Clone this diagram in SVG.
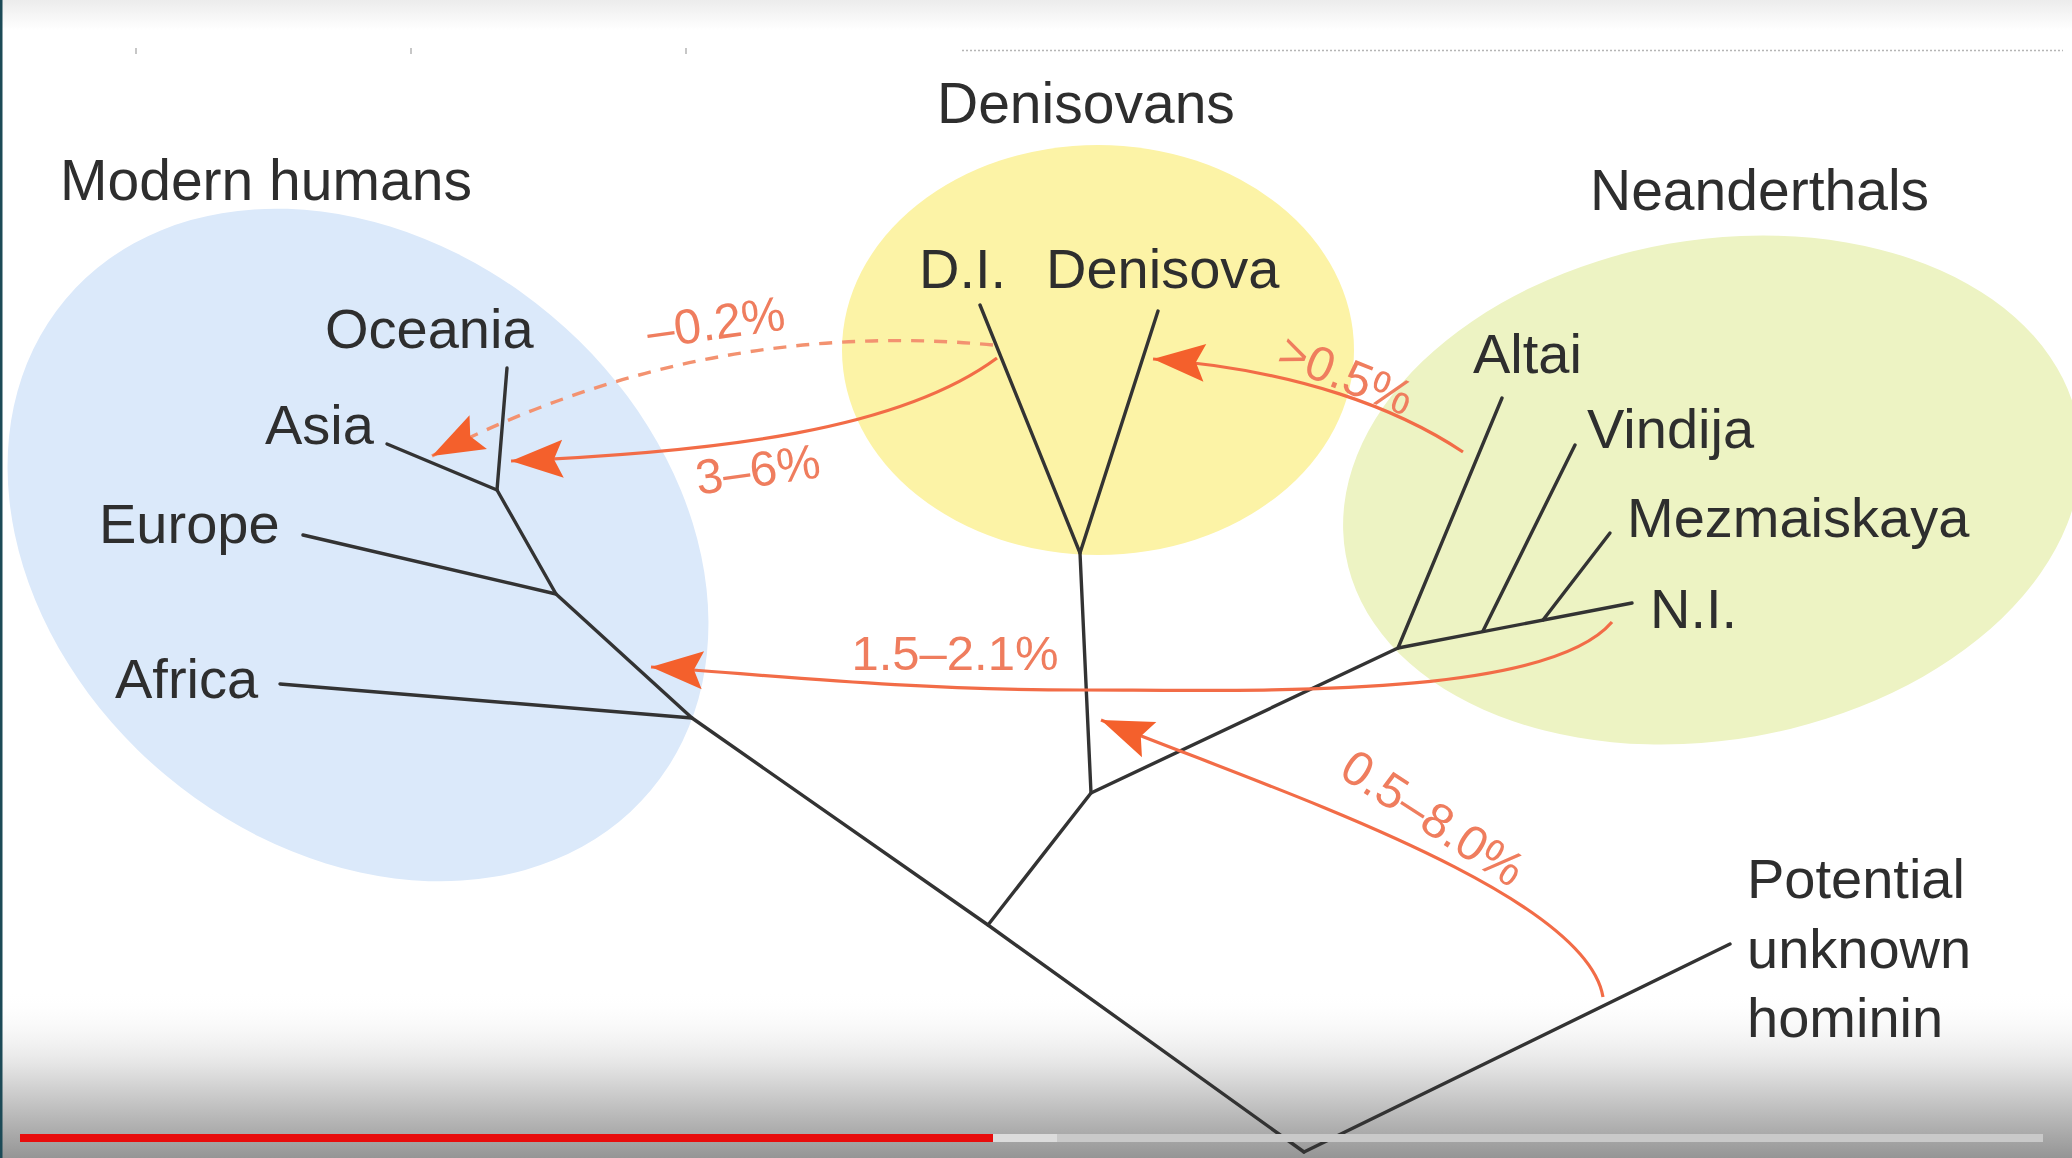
<svg xmlns="http://www.w3.org/2000/svg" width="2072" height="1158" viewBox="0 0 2072 1158">
  <defs>
    <style>
      .lbl { font-family: "Liberation Sans", Arial, Helvetica, sans-serif; font-size: 56px; fill: #2e2e2e; }
      .head-lbl { font-size: 57px; }
      .pct { font-family: "Liberation Sans", Arial, Helvetica, sans-serif; font-size: 49px; fill: #ef7d5e; }
      .branch { fill: none; stroke: #333333; stroke-width: 3.4; stroke-linecap: round; stroke-linejoin: round; }
      .flow { fill: none; stroke: #f26c47; stroke-width: 3.2; }
      .flow-dash { fill: none; stroke: #f39270; stroke-width: 3.4; stroke-dasharray: 13 10; }
    </style>
    <marker id="head" markerUnits="userSpaceOnUse" viewBox="-56 -24 60 48" markerWidth="60" markerHeight="48" refX="0" refY="0" orient="auto">
      <path d="M0,0 L-52,-19 L-43,0 L-52,19 Z" fill="#f4602c"/>
    </marker>
    <linearGradient id="topShade" x1="0" y1="0" x2="0" y2="1">
      <stop offset="0" stop-color="#ececec"/>
      <stop offset="1" stop-color="#ffffff"/>
    </linearGradient>
    <linearGradient id="bottomShade" x1="0" y1="0" x2="0" y2="1">
      <stop offset="0" stop-color="#ffffff" stop-opacity="0"/>
      <stop offset="0.45" stop-color="#e4e4e4"/>
      <stop offset="1" stop-color="#959595"/>
    </linearGradient>
  </defs>

  <!-- page -->
  <rect x="0" y="0" width="2072" height="1158" fill="#ffffff"/>
  <rect x="0" y="0" width="2072" height="30" fill="url(#topShade)"/>
  <rect x="0" y="990" width="2072" height="168" fill="url(#bottomShade)"/>

  <!-- faint ruler marks along the top -->
  <g id="ruler" stroke="#b5b5b5" stroke-width="1.5">
    <line x1="962" y1="50.5" x2="2063" y2="50.5" stroke-dasharray="2 2"/>
    <line x1="136" y1="48" x2="136" y2="54"/>
    <line x1="411" y1="48" x2="411" y2="54"/>
    <line x1="686" y1="48" x2="686" y2="54"/>
  </g>

  <!-- clade regions -->
  <g id="modern-humans">
    <ellipse cx="358" cy="545" rx="382" ry="300" transform="rotate(40 358 545)" fill="#dbe9fa"/>
    <text class="lbl head-lbl" x="60" y="200">Modern humans</text>
  </g>
  <g id="denisovans">
    <ellipse cx="1098" cy="350" rx="256" ry="205" fill="#fcf3a6"/>
    <text class="lbl head-lbl" x="937" y="123">Denisovans</text>
  </g>
  <g id="neanderthals">
    <ellipse cx="1712" cy="490" rx="372" ry="250" transform="rotate(-10 1712 490)" fill="#edf3c3"/>
    <text class="lbl head-lbl" x="1590" y="210">Neanderthals</text>
  </g>

  <!-- leaf labels -->
  <g id="oceania"><text class="lbl" x="325" y="348">Oceania</text></g>
  <g id="asia"><text class="lbl" x="265" y="444">Asia</text></g>
  <g id="europe"><text class="lbl" x="99" y="543">Europe</text></g>
  <g id="africa"><text class="lbl" x="115" y="698">Africa</text></g>
  <g id="denisova-di"><text class="lbl" x="919" y="288">D.I.</text></g>
  <g id="denisova"><text class="lbl" x="1046" y="288">Denisova</text></g>
  <g id="altai"><text class="lbl" x="1473" y="373">Altai</text></g>
  <g id="vindija"><text class="lbl" x="1587" y="448">Vindija</text></g>
  <g id="mezmaiskaya"><text class="lbl" x="1627" y="537">Mezmaiskaya</text></g>
  <g id="neanderthal-ni"><text class="lbl" x="1650" y="628">N.I.</text></g>
  <g id="unknown-hominin">
    <text class="lbl" x="1747" y="898">Potential</text>
    <text class="lbl" x="1747" y="968">unknown</text>
    <text class="lbl" x="1747" y="1037">hominin</text>
  </g>

  <g id="connectors">
    <!-- phylogeny -->
    <g id="tree" class="branch">
      <polyline points="497,490 556,594 692,718 988,925 1304,1152"/>
      <line x1="507" y1="368" x2="497" y2="490"/>
      <line x1="387" y1="444" x2="497" y2="490"/>
      <line x1="303" y1="535" x2="556" y2="594"/>
      <line x1="280" y1="684" x2="692" y2="718"/>
      <polyline points="988,925 1091,793 1398,648 1632,603"/>
      <polyline points="980,305 1080,553 1158,311"/>
      <line x1="1080" y1="553" x2="1091" y2="793"/>
      <line x1="1398" y1="648" x2="1502" y2="398"/>
      <line x1="1483" y1="631" x2="1575" y2="445"/>
      <line x1="1543" y1="620" x2="1610" y2="533"/>
      <line x1="1304" y1="1152" x2="1730" y2="944"/>
    </g>

    <!-- introgression arrows -->
    <g id="gene-flow">
      <path class="flow-dash" d="M993,345 Q700,318 432,456" marker-end="url(#head)"/>
      <path class="flow" d="M997,358 C900,430 720,452 511,461" marker-end="url(#head)"/>
      <path class="flow" d="M1612,622 C1545,700 1250,690 1080,690 C900,690 760,674 651,667" marker-end="url(#head)"/>
      <path class="flow" d="M1463,452 C1400,410 1300,370 1153,359" marker-end="url(#head)"/>
      <path class="flow" d="M1603,997 C1585,890 1260,785 1101,720" marker-end="url(#head)"/>
    </g>

    <!-- flow percentages -->
    <g id="flow-labels">
      <text class="pct" x="718" y="339" text-anchor="middle" transform="rotate(-8 718 339)">–0.2%</text>
      <text class="pct" x="760" y="486" text-anchor="middle" transform="rotate(-8 760 486)">3–6%</text>
      <text class="pct" x="955" y="670" text-anchor="middle">1.5–2.1%</text>
      <text class="pct" x="1340" y="390" text-anchor="middle" transform="rotate(22 1340 390)">&gt;0.5%</text>
      <text class="pct" x="1424" y="832" text-anchor="middle" transform="rotate(33 1424 832)">0.5–8.0%</text>
    </g>
  </g>

  <!-- player chrome along the bottom -->
  <g id="player-bar">
    <rect x="993" y="1134" width="1050" height="8" fill="#c9c9c9"/>
    <rect x="993" y="1134" width="64" height="8" fill="#dcdcdc"/>
    <rect x="20" y="1134" width="973" height="8" fill="#e80c0c"/>
  </g>
  <rect x="0" y="0" width="2.5" height="1158" fill="#1c4a57"/>
</svg>
